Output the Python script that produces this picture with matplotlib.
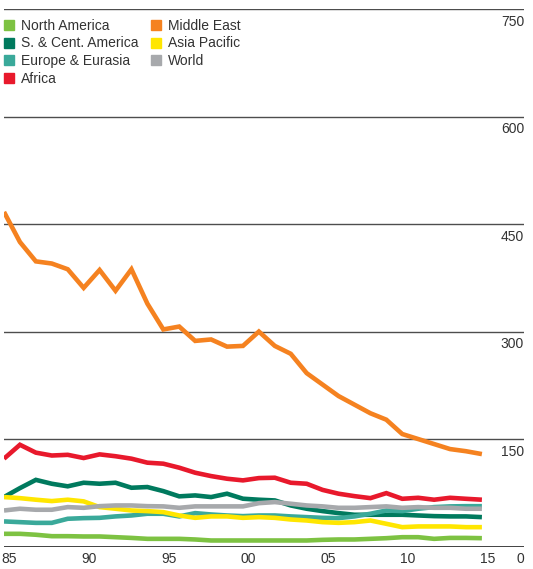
import numpy as np
import matplotlib
matplotlib.use("Agg")
import matplotlib.pyplot as plt
import matplotlib.transforms as mtransforms
from matplotlib.lines import Line2D

plt.rcParams['font.family'] = ['Liberation Sans', 'DejaVu Sans']

# Years 1985-2015
years = np.arange(1985, 2016)

north_america = [17.7, 17.7, 16.4, 14.4, 14.4, 14.0, 14.0, 13.0, 12.0, 10.7,
                 10.7, 10.7, 9.8, 8.4, 8.4, 8.4, 8.4, 8.4, 8.4, 8.4,
                 9.3, 9.8, 9.8, 10.7, 11.6, 13.0, 13.0, 10.7, 12.0, 12.0, 11.6]
sc_america = [69.0, 81.5, 93.0, 87.6, 84.0, 89.0, 87.6, 89.0, 82.0, 83.0,
              77.3, 70.0, 71.3, 69.0, 73.7, 66.7, 65.3, 64.3, 57.3, 52.7,
              49.4, 46.6, 44.3, 44.3, 44.3, 44.3, 43.3, 42.4, 42.0, 42.0, 41.0]
europe_eurasia = [35.0, 34.0, 33.0, 33.0, 38.7, 39.6, 40.0, 42.0, 43.3, 45.7,
                  45.7, 42.0, 46.6, 44.7, 43.3, 42.4, 43.3, 43.3, 42.0, 41.0,
                  40.0, 39.6, 42.0, 45.7, 50.3, 49.4, 52.7, 55.0, 56.0, 56.3, 56.3]
africa = [122.6, 142.0, 131.0, 127.0, 128.0, 123.5, 128.6, 126.0, 122.6, 117.0,
          115.6, 110.0, 103.0, 98.3, 94.6, 92.3, 95.5, 96.0, 89.0, 87.6,
          79.0, 73.7, 70.3, 67.5, 74.5, 66.6, 68.0, 65.3, 68.0, 66.6, 65.3]
middle_east = [467, 425, 398, 395, 387, 361, 386, 357, 387, 339,
               303, 307, 287, 289, 279, 280, 300, 280, 269, 242,
               226, 210, 198, 186, 177, 157, 150, 143, 136, 133, 129]
asia_pacific = [69.0, 67.5, 65.3, 63.4, 65.3, 63.0, 55.0, 52.7, 50.3, 49.4,
                48.0, 43.3, 40.0, 42.0, 42.0, 40.0, 41.0, 40.0, 37.7, 36.3,
                34.0, 33.0, 34.0, 36.3, 31.7, 27.0, 28.0, 28.0, 28.0, 27.0, 27.0]
world = [50.3, 52.7, 51.3, 51.3, 55.0, 54.0, 56.3, 57.3, 57.3, 56.3,
         56.0, 54.0, 56.0, 56.0, 56.0, 56.0, 60.5, 62.0, 59.7, 57.3,
         56.0, 54.0, 54.0, 55.0, 56.0, 54.0, 55.0, 54.0, 54.0, 52.7, 52.7]

names = ['North America', 'S. & Cent. America', 'Europe & Eurasia', 'Africa',
         'Middle East', 'Asia Pacific', 'World']
series = [north_america, sc_america, europe_eurasia, africa,
          middle_east, asia_pacific, world]
colors = ['#7dc242', '#007a5e', '#3aa99a', '#e8192c',
          '#f58220', '#ffe600', '#a7a9ac']

yticks = [0, 150, 300, 450, 600, 750]
xticks = [1985, 1990, 1995, 2000, 2005, 2010, 2015]
xlabels = ['85', '90', '95', '00', '05', '10', '15']

fig = plt.figure(figsize=(5.33, 5.69), dpi=100)
ax = fig.add_axes([4 / 533, 1 - 546.5 / 569, 520 / 533, 537.3 / 569])
ax.set_xlim(1985, 1985 + 520 / 15.93)
ax.set_ylim(0, 750)

# gridlines
for v in yticks[1:]:
    ax.axhline(v, color='#4d4d4d', lw=1.0, zorder=1)
ax.axhline(0, color='#333333', lw=1.3, zorder=1)

# series
for vals, c in zip(series, colors):
    ax.plot(years, vals, color=c, lw=3.3, solid_capstyle='butt',
            solid_joinstyle='miter', zorder=3)

for s in ax.spines.values():
    s.set_visible(False)
ax.set_yticks([])
ax.set_xticks(xticks)
ax.set_xticklabels(xlabels)
ax.tick_params(axis='x', length=0, pad=4, labelsize=10, labelcolor='#333333')
# nudge year labels a little to the right, as in the original
shift = mtransforms.ScaledTranslation(4 / 72, 0, fig.dpi_scale_trans)
for lab in ax.get_xticklabels():
    lab.set_transform(lab.get_transform() + shift)

# right-side value labels sitting under each gridline
trans = mtransforms.blended_transform_factory(ax.transAxes, ax.transData)
off = mtransforms.ScaledTranslation(0, -4 / 72, fig.dpi_scale_trans)
for v in yticks:
    ax.text(1.0, v, str(v), transform=trans + off, ha='right', va='top',
            fontsize=10, color='#333333')

handles = [Line2D([], [], marker='s', ls='', color=c, markersize=7)
           for c in colors]
leg = ax.legend(handles, names, ncol=2, loc='upper left',
                bbox_to_anchor=(-0.012, 0.993), frameon=False, fontsize=10,
                handlelength=0.8, handletextpad=0.5, labelspacing=0.28,
                columnspacing=0.8, borderaxespad=0.0)
for t in leg.get_texts():
    t.set_color('#333333')

fig.savefig('out.png', dpi=100)
